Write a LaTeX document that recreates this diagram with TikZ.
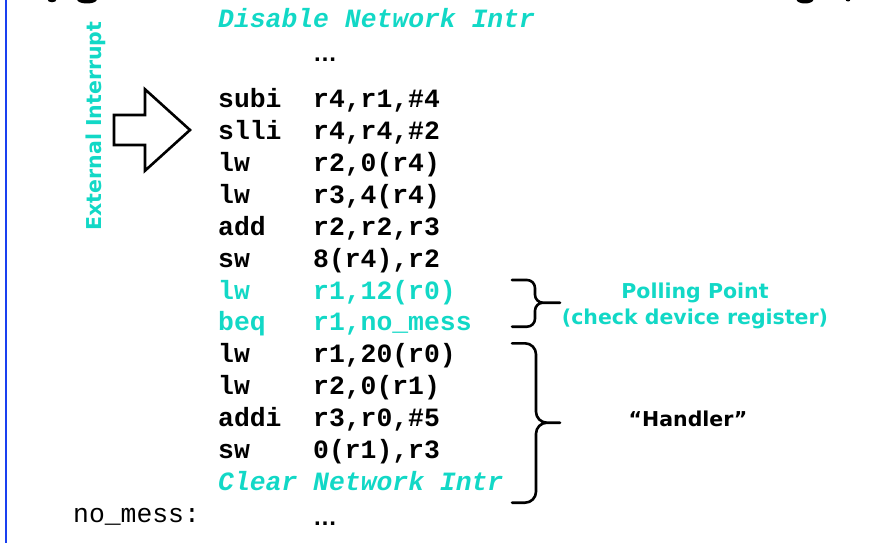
\documentclass[tikz,border=0pt]{standalone}
\usepackage{fontspec}
\setmonofont{Liberation Mono}
\newfontfamily\labelfont{DejaVu Sans}
\newfontfamily\dotsfont{Liberation Sans}
\definecolor{intrcyan}{HTML}{12D8C6}
\definecolor{frameblue}{HTML}{1A40F0}

\tikzset{
  code/.style={font=\ttfamily\bfseries\fontsize{26.4}{30}\selectfont,
               anchor=base west, inner sep=0pt},
  hot/.style={code, text=intrcyan},
  note/.style={font=\ttfamily\bfseries\itshape\fontsize{26.4}{30}\selectfont,
               anchor=base west, inner sep=0pt, text=intrcyan},
  plain/.style={font=\ttfamily\fontsize{26.4}{30}\selectfont,
               anchor=base west, inner sep=0pt},
  ellip/.style={font=\dotsfont\bfseries\fontsize{24}{28}\selectfont,
               anchor=base west, inner sep=0pt},
  tag/.style={font=\labelfont\bfseries\fontsize{20.5}{24}\selectfont,
              anchor=base, inner sep=0pt},
  bracket/.style={line width=2.6pt, line cap=round, line join=round},
}

\begin{document}
\begin{tikzpicture}[x=1pt,y=-1pt]
\useasboundingbox (0,0) rectangle (879,543);

% remnants of the heading above
\begin{scope}
  \clip (0,0) rectangle (879,543);
  \fill (52,-0.5) ellipse (4.5 and 2.8);
  \fill (87,-0.5) ellipse (10 and 4);
  \fill (805,-0.5) ellipse (8.5 and 4);
  \fill (848,-0.5) ellipse (2.5 and 2);
\end{scope}

% frame edge
\draw[frameblue, line width=2.6pt] (6,0) -- (6,543);

% code listing
\node[note] (dis) at (218,28) {Disable Network Intr};
\node[ellip] (topdots) at (313,61.5) {…};

\node[code] (m0)  at (218,107.5) {subi};  \node[code] (o0)  at (313,107.5) {r4,r1,\#4};
\node[code] (m1)  at (218,139.4) {slli};  \node[code] (o1)  at (313,139.4) {r4,r4,\#2};
\node[code] (m2)  at (218,171.3) {lw};    \node[code] (o2)  at (313,171.3) {r2,0(r4)};
\node[code] (m3)  at (218,203.3) {lw};    \node[code] (o3)  at (313,203.3) {r3,4(r4)};
\node[code] (m4)  at (218,235.2) {add};   \node[code] (o4)  at (313,235.2) {r2,r2,r3};
\node[code] (m5)  at (218,267.1) {sw};    \node[code] (o5)  at (313,267.1) {8(r4),r2};
\node[hot]  (m6)  at (218,299.0) {lw};    \node[hot]  (o6)  at (313,299.0) {r1,12(r0)};
\node[hot]  (m7)  at (218,330.9) {beq};   \node[hot]  (o7)  at (313,330.9) {r1,no\_mess};
\node[code] (m8)  at (218,362.9) {lw};    \node[code] (o8)  at (313,362.9) {r1,20(r0)};
\node[code] (m9)  at (218,394.8) {lw};    \node[code] (o9)  at (313,394.8) {r2,0(r1)};
\node[code] (m10) at (218,426.7) {addi};  \node[code] (o10) at (313,426.7) {r3,r0,\#5};
\node[code] (m11) at (218,458.6) {sw};    \node[code] (o11) at (313,458.6) {0(r1),r3};
\node[note] (clr) at (218,490.5) {Clear Network Intr};
\node[plain] (lbl) at (73,522.5) {no\_mess:};
\node[ellip] (botdots) at (313,525.5) {…};

% interrupt arrow and its caption
\node[tag, text=intrcyan, rotate=90] (ext) at (101,126) {External Interrupt};
\draw[line width=2.6pt, line join=miter, fill=white]
  (114,115) -- (145,115) -- (145,89.3) -- (190,130) -- (145,170.7)
  -- (145,145) -- (114,145) -- cycle;

% brace over the polling pair
\coordinate (pollTip) at (560,302.7);
\draw[bracket]
  (512,280) -- (527,280) to[out=0,in=90] (535,288) -- (535,294.7)
  to[out=-90,in=180] (543,302.7) -- (pollTip)
  (543,302.7) to[out=180,in=90] (535,310.7) -- (535,318.7)
  to[out=-90,in=0] (527,326.7) -- (512,326.7);
\node[tag, text=intrcyan] (poll1) at (695,298) {Polling Point};
\node[tag, text=intrcyan] (poll2) at (695,324) {(check device register)};

% brace over the handler body
\coordinate (handTip) at (560,422.7);
\draw[bracket]
  (512,343.3) -- (525,343.3) to[out=0,in=90] (536,354.3) -- (536,411.7)
  to[out=-90,in=180] (547,422.7) -- (handTip)
  (547,422.7) to[out=180,in=90] (536,433.7) -- (536,491.7)
  to[out=-90,in=0] (525,502.7) -- (512,502.7);
\node[tag] (hand) at (688,426.7) {“Handler”};
\end{tikzpicture}
\end{document}
